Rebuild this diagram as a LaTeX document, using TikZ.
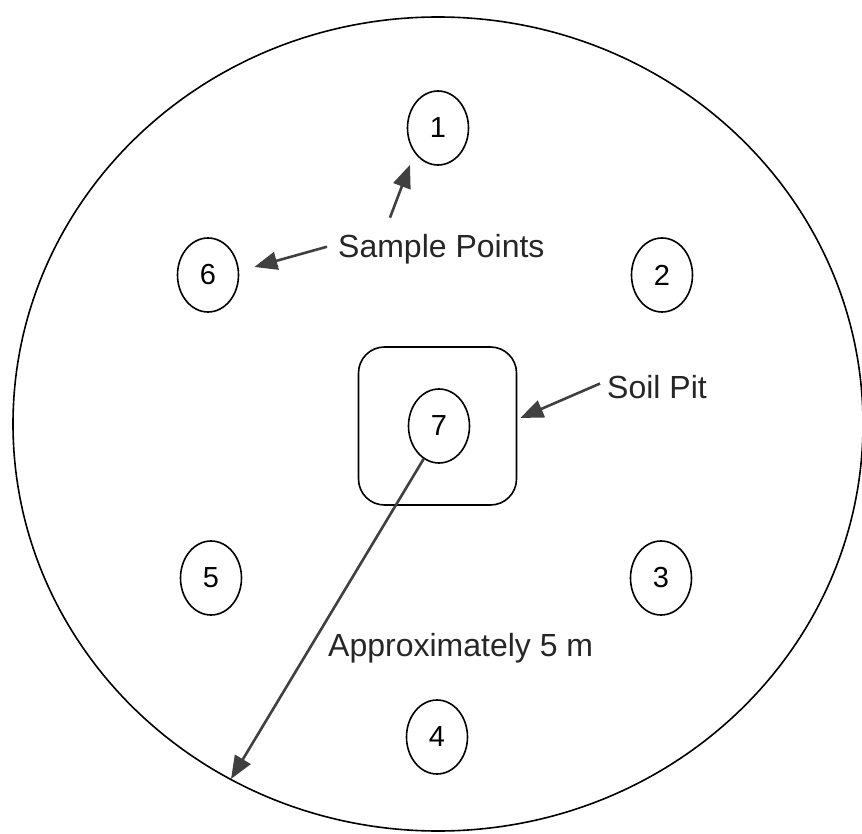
\documentclass[tikz,border=0pt]{standalone}
\usepackage{fontspec}
\setmainfont{Liberation Sans}
\usetikzlibrary{shapes.geometric,arrows.meta}
\begin{document}
\begin{tikzpicture}[x=1pt,y=-1pt,
	spot/.style={draw,ellipse,line width=1.6pt,minimum width=61pt,minimum height=74pt,inner sep=0pt,font=\fontsize{29}{34}\selectfont},
	lbl/.style={font=\fontsize{32}{38}\selectfont,text=black!85,inner sep=0pt,anchor=base west},
	ptr/.style={draw=black!75,line width=2.6pt,-{Triangle[length=23pt,width=18pt]}}]
	\useasboundingbox (0,0) rectangle (862,834);
	\draw[line width=1.6pt] (438,424) ellipse [x radius=425pt, y radius=407pt];
	
	\node[draw,rounded corners=26pt,line width=1.6pt,minimum size=158pt] (pit) at (437.5,426) {};
	\node[spot] (p1) at (438,128) {1};
	\node[spot] (p2) at (662,275) {2};
	\node[spot] (p3) at (661,578) {3};
	\node[spot] (p4) at (437,737) {4};
	\node[spot] (p5) at (211,578) {5};
	\node[spot] (p6) at (208,275) {6};
	\node[spot] (p7) at (439,426) {7};
	
	\node[lbl] (samplelbl) at (338,258) {Sample Points};
	\node[lbl] (pitlbl) at (607,398) {Soil Pit};
	\node[lbl] (distlbl) at (328,656) {Approximately 5 m};
	\coordinate (rim) at (231,779);
	
	\draw[ptr] ([xshift=-11pt,yshift=3pt]samplelbl.west) -- ([xshift=15pt,yshift=8pt]p6.east);
	\draw[ptr] ([xshift=52pt,yshift=17pt]samplelbl.north west) -- ([xshift=-28pt,yshift=1pt]p1.south);
	\draw[ptr] ([xshift=-7pt,yshift=3pt]pitlbl.west) -- ([xshift=3pt,yshift=8pt]pit.east);
	\draw[ptr] (p7.245) -- (rim);
\end{tikzpicture}
\end{document}
